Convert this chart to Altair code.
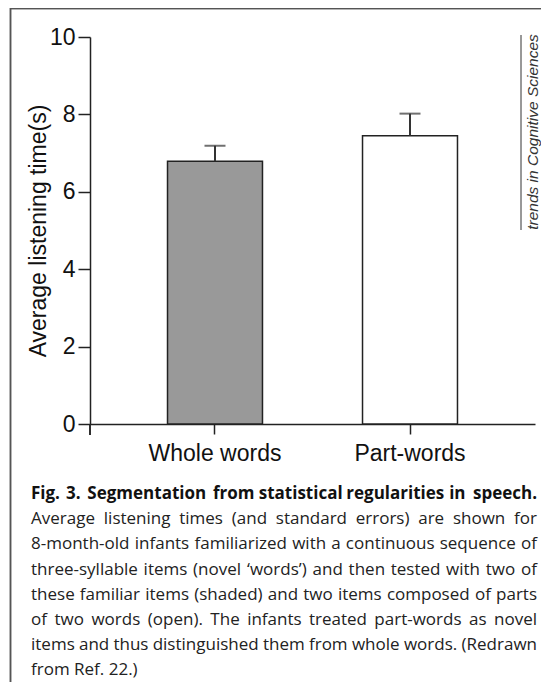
import altair as alt
import pandas as pd

# ---- data ----
categories = ["Whole words", "Part-words"]
means = [6.79, 7.45]
std_errors = [0.40, 0.57]
fill_colors = ["#999999", "#ffffff"]

y_ticks = [0, 2, 4, 6, 8, 10]

caption_title = "Fig. 3. Segmentation from statistical regularities in speech."
caption_lines = [
    "Average listening times (and standard errors) are shown for",
    "8-month-old infants familiarized with a continuous sequence of",
    "three-syllable items (novel \u2018words\u2019) and then tested with two of",
    "these familiar items (shaded) and two items composed of parts",
    "of two words (open). The infants treated part-words as novel",
    "items and thus distinguished them from whole words. (Redrawn",
    "from Ref. 22.)",
]
watermark = "trends in Cognitive Sciences"

# ---- layout (pixels) ----
W, H = 445, 387
PAD = {"left": 82, "top": 29, "right": 6, "bottom": 258}
AXIS_FONT = "Liberation Sans"
CAP_FONT = "Open Sans"
CAP_SIZE = 17
CAP_X0 = -59          # left edge of caption block (plot coords)
CAP_WIDTH = 506       # justified block width
CAP_Y0 = 457
LINE_GAP = 25.2
BOLD_FACTOR = 1.10

# approximate Open Sans advance widths (em) used to justify caption lines
OS_W = {
    " ": 0.26, "a": 0.556, "b": 0.613, "c": 0.476, "d": 0.613, "e": 0.561, "f": 0.339,
    "g": 0.548, "h": 0.614, "i": 0.253, "j": 0.253, "k": 0.525, "l": 0.253, "m": 0.93,
    "n": 0.614, "o": 0.604, "p": 0.613, "q": 0.613, "r": 0.408, "s": 0.477, "t": 0.353,
    "u": 0.614, "v": 0.501, "w": 0.778, "x": 0.524, "y": 0.502, "z": 0.477,
    "A": 0.633, "F": 0.519, "R": 0.617, "S": 0.549, "T": 0.553,
    "(": 0.296, ")": 0.296, ".": 0.266, ",": 0.245, "-": 0.322,
    "\u2018": 0.177, "\u2019": 0.177,
}


def est_width(s, size, bold=False):
    w = sum(OS_W.get(c, 0.572 if c.isdigit() else 0.55) for c in s) * size
    return w * (BOLD_FACTOR if bold else 1.0)


def line_layers(text, y, bold=False, justify=True):
    style = dict(font=CAP_FONT, fontSize=CAP_SIZE, color="#111" if bold else "#222",
                 baseline="middle")
    if bold:
        style["fontWeight"] = "bold"
    if not justify:
        return [alt.Chart(pd.DataFrame({"t": [text]})).mark_text(align="left", **style)
                .encode(x=alt.value(CAP_X0), y=alt.value(y), text="t:N")]
    words = text.split(" ")
    widths = [est_width(w, CAP_SIZE, bold) for w in words]
    n = len(words)
    gap = (CAP_WIDTH - sum(widths)) / (n - 1)
    layers = []
    x = CAP_X0
    for k in range(n):
        if k == 0:
            align, xpos = "left", CAP_X0
        elif k == n - 1:
            align, xpos = "right", CAP_X0 + CAP_WIDTH
        else:
            align, xpos = "center", x + widths[k] / 2
        layers.append(
            alt.Chart(pd.DataFrame({"t": [words[k]]}))
            .mark_text(align=align, **style)
            .encode(x=alt.value(round(xpos, 2)), y=alt.value(y), text="t:N")
        )
        x += widths[k] + gap
    return layers


df = pd.DataFrame({
    "cat": categories,
    "mean": means,
    "upper": [m + e for m, e in zip(means, std_errors)],
    "fill": fill_colors,
})

x_enc = alt.X(
    "cat:N", sort=categories, title=None,
    scale=alt.Scale(paddingInner=0.513, paddingOuter=0.3975),
    axis=alt.Axis(
        labelAngle=0, labelFont=AXIS_FONT, labelFontSize=23, labelColor="#111",
        labelPadding=8, tickSize=10, tickWidth=1.5, tickColor="#222",
        domainColor="#222", domainWidth=1.5,
    ),
)
y_scale = alt.Scale(domain=[0, 10], nice=False, zero=True)

base = alt.Chart(df).encode(x=x_enc)

bars = base.mark_bar(stroke="#222", strokeWidth=1.5).encode(
    y=alt.Y(
        "mean:Q", scale=y_scale,
        axis=alt.Axis(
            values=y_ticks, grid=False, tickSize=12, tickWidth=1.5, tickColor="#222",
            domainColor="#222", domainWidth=1.5,
            labelFont=AXIS_FONT, labelFontSize=23, labelColor="#111", labelPadding=3,
            title="Average listening time(s)", titleFont=AXIS_FONT, titleFontSize=23,
            titleFontWeight="normal", titleColor="#111", titlePadding=-1,
        ),
    ),
    fill=alt.Fill("fill:N", scale=None),
)

err_line = base.mark_rule(color="#333", strokeWidth=2).encode(
    y=alt.Y("mean:Q", scale=y_scale), y2="upper:Q"
)
err_cap = base.mark_tick(orient="horizontal", size=21, thickness=2, color="#333").encode(
    y=alt.Y("upper:Q", scale=y_scale)
)

# y-axis line continuing below zero
axis_ext = alt.Chart(df).mark_rule(color="#222", strokeWidth=1.5).encode(
    x=alt.value(0), y=alt.value(H), y2=alt.value(H + 11)
)

# page frame (left and top edges)
frame_left = alt.Chart(df).mark_rule(color="#555", strokeWidth=1.5).encode(
    x=alt.value(-79.5), y=alt.value(-29), y2=alt.value(H + PAD["bottom"])
)
frame_top = alt.Chart(df).mark_rule(color="#555", strokeWidth=1.5).encode(
    x=alt.value(-79.5), x2=alt.value(W + PAD["right"]), y=alt.value(-28.5)
)

# watermark
wm_line = alt.Chart(df).mark_rule(color="#777", strokeWidth=1).encode(
    x=alt.value(431), y=alt.value(-2), y2=alt.value(193)
)
wm_text = alt.Chart(pd.DataFrame({"t": [watermark]})).mark_text(
    angle=270, font=AXIS_FONT, fontSize=15.5, fontStyle="italic", color="#333",
    align="center", baseline="middle",
).encode(x=alt.value(443), y=alt.value(95), text="t:N")

# caption
cap_layers = line_layers(caption_title, CAP_Y0, bold=True)
for i, line in enumerate(caption_lines):
    cap_layers += line_layers(line, CAP_Y0 + (i + 1) * LINE_GAP,
                              justify=(i < len(caption_lines) - 1))

chart = alt.layer(
    bars, err_line, err_cap, axis_ext, frame_left, frame_top, wm_line, wm_text, *cap_layers
).properties(
    width=W, height=H, padding=PAD, autosize=alt.AutoSizeParams(type="none"),
    background="white",
).configure_view(stroke=None)

chart.save("out.html", embed_options={"renderer": "svg", "actions": False})
